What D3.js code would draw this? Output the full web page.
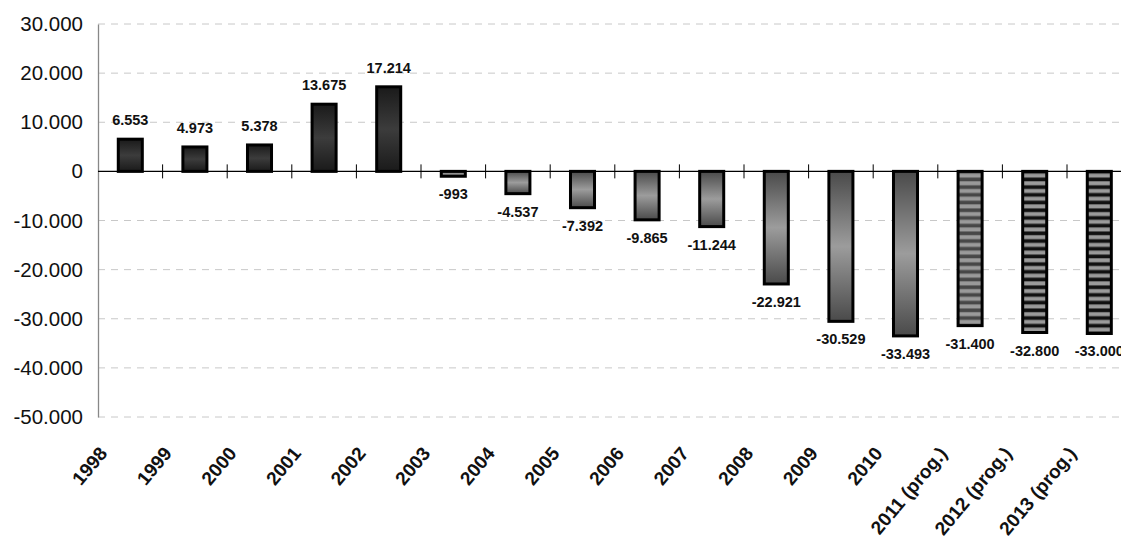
<!DOCTYPE html>
<html><head><meta charset="utf-8">
<script src="https://cdn.jsdelivr.net/npm/d3@7"></script>
<style>body{margin:0;background:#fff}svg{display:block}</style>
</head><body><svg id="c" width="1121" height="538"></svg>
<script>
const categories = ["1998","1999","2000","2001","2002","2003","2004","2005","2006","2007","2008","2009","2010","2011 (prog.)","2012 (prog.)","2013 (prog.)"];
const values = [6553,4973,5378,13675,17214,-993,-4537,-7392,-9865,-11244,-22921,-30529,-33493,-31400,-32800,-33000];
const yTicks = [30000,20000,10000,0,-10000,-20000,-30000,-40000,-50000];

(function () {
const svg = d3.select("#c");
const W = 1121, H = 538;
const mLeft = 98, mRight = 1131.6, mTop = 24, mBottom = 417;

const x = d3.scaleBand().domain(categories).range([mLeft, mRight]).paddingInner(0.628).paddingOuter(0.314);
const y = d3.scaleLinear().domain([-50000, 30000]).range([mBottom, mTop]);

const loc = d3.formatLocale({decimal: ",", thousands: ".", grouping: [3], currency: ["", ""], minus: "-"});
const fmt = loc.format(",d");

const defs = svg.append("defs");
function vgrad(id, edge, mid) {
  const g = defs.append("linearGradient").attr("id", id).attr("x1", 0).attr("y1", 0).attr("x2", 0).attr("y2", 1);
  g.append("stop").attr("offset", "0%").attr("stop-color", edge);
  g.append("stop").attr("offset", "50%").attr("stop-color", mid);
  g.append("stop").attr("offset", "100%").attr("stop-color", edge);
}
vgrad("gPos", "#1a1a1a", "#3c3c3c");
vgrad("gNeg", "#4a4a4a", "#9c9c9c");
function stripes(id, dark) {
  const p = defs.append("pattern").attr("id", id).attr("patternUnits", "userSpaceOnUse")
    .attr("width", 10).attr("height", 7.7).attr("y", y(0));
  p.append("rect").attr("width", 10).attr("height", 7.7).attr("fill", dark);
  p.append("rect").attr("y", 2.2).attr("width", 10).attr("height", 4).attr("fill", "#9a9a9a");
}
stripes("sGray", "#474747");
stripes("sBlack", "#111");

// gridlines
svg.append("g").selectAll("line").data(yTicks.filter(d => d !== 0)).join("line")
  .attr("x1", mLeft).attr("x2", W).attr("y1", d => y(d)).attr("y2", d => y(d))
  .attr("stroke", "#c8c8c8").attr("stroke-width", 1).attr("stroke-dasharray", "7,6");

// y axis
const yAxis = svg.append("g").attr("transform", `translate(${mLeft},0)`)
  .call(d3.axisLeft(y).tickValues(yTicks).tickSize(0).tickPadding(15).tickFormat(d => d === 0 ? "0" : fmt(d)));
yAxis.select(".domain").attr("stroke", "#888").attr("stroke-width", 1.3);
yAxis.selectAll("text").attr("font-family", "Liberation Sans, Arial, sans-serif").attr("font-size", 20.5).attr("fill", "#111");

function fillFor(d, i) {
  if (i === 13) return "url(#sGray)";
  if (i > 13) return "url(#sBlack)";
  return d >= 0 ? "url(#gPos)" : "url(#gNeg)";
}

// bars
svg.append("g").selectAll("rect").data(values).join("rect")
  .attr("x", (d, i) => x(categories[i]))
  .attr("width", x.bandwidth())
  .attr("y", d => y(Math.max(0, d)))
  .attr("height", d => Math.abs(y(d) - y(0)))
  .attr("fill", fillFor)
  .attr("stroke", "#000").attr("stroke-width", 3);

// zero line + category ticks
svg.append("line").attr("x1", mLeft).attr("x2", W).attr("y1", y(0)).attr("y2", y(0)).attr("stroke", "#000").attr("stroke-width", 1.3);
const step = x.step();
svg.append("g").selectAll("line").data(categories.slice(1)).join("line")
  .attr("x1", d => x(d) - x.paddingInner() * step / 2).attr("x2", d => x(d) - x.paddingInner() * step / 2)
  .attr("y1", y(0) - 7).attr("y2", y(0) + 7).attr("stroke", "#000").attr("stroke-width", 1);

// value labels
svg.append("g").selectAll("text").data(values).join("text")
  .attr("x", (d, i) => x(categories[i]) + x.bandwidth() / 2)
  .attr("y", d => d >= 0 ? y(d) - 14 : y(d) + 23)
  .attr("text-anchor", "middle")
  .attr("font-family", "Liberation Sans, Arial, sans-serif").attr("font-weight", "bold").attr("font-size", 14.5)
  .attr("fill", "#111")
  .text(d => fmt(d));

// x labels
svg.append("g").selectAll("text").data(categories).join("text")
  .attr("transform", d => `translate(${x(d) + x.bandwidth() / 2 - 22},${mBottom + 37}) rotate(-50)`)
  .attr("text-anchor", "end")
  .attr("font-family", "Liberation Sans, Arial, sans-serif").attr("font-weight", "bold").attr("font-size", 19)
  .attr("fill", "#111")
  .text(d => d);
})();
</script></body></html>
